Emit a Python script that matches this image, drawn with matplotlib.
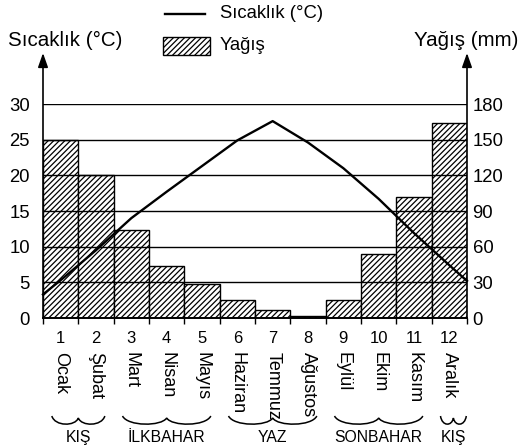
import numpy as np
import matplotlib
matplotlib.use('Agg')
import matplotlib.pyplot as plt
from matplotlib.path import Path
from matplotlib.patches import PathPatch, Rectangle, FancyArrowPatch
from matplotlib.lines import Line2D
import matplotlib.transforms as mtransforms

plt.rcParams['font.family'] = ['Liberation Sans', 'DejaVu Sans']
plt.rcParams['hatch.linewidth'] = 0.9
plt.rcParams['hatch.color'] = 'black'

# ---------------- data ----------------
month_numbers = [1, 2, 3, 4, 5, 6, 7, 8, 9, 10, 11, 12]
month_names = ['Ocak', 'Şubat', 'Mart', 'Nisan', 'Mayıs', 'Haziran',
               'Temmuz', 'Ağustos', 'Eylül', 'Ekim', 'Kasım', 'Aralık']
precip_mm = [150, 120, 74, 44, 29, 15, 7, 2, 15, 54, 102, 164]
temp_c = [5.3, 9.5, 14.0, 17.7, 21.3, 24.9, 27.6, 24.6, 21.0, 16.7, 11.9, 7.4]
temp_year_start = 3.3
temp_year_end = 5.2
temp_ticks = [0, 5, 10, 15, 20, 25, 30]
precip_ticks = [0, 30, 60, 90, 120, 150, 180]
seasons = ['KIŞ', 'İLKBAHAR', 'YAZ', 'SONBAHAR', 'KIŞ']
season_first = [1, 3, 6, 9, 12]
season_last = [2, 5, 8, 11, 12]

# ---------------- figure ----------------
W, H = 521, 448
fig = plt.figure(figsize=(W / 100, H / 100), dpi=100)


def fx(px):
    return px / W


def fy(py):
    return 1 - py / H


ax = fig.add_axes([fx(43), fy(318), fx(467) - fx(43), fy(104) - fy(318)])
ax2 = ax.twinx()

HATCH = '//////'

# bars (precipitation) on primary axes (right-hand scale)
ax.bar(month_numbers, precip_mm, width=1.0, facecolor='white',
       edgecolor='black', hatch=HATCH, linewidth=1.0, zorder=2)
ax.set_xlim(0.5, 12.5)
ax.set_ylim(precip_ticks[0], precip_ticks[-1])
ax2.set_ylim(temp_ticks[0], temp_ticks[-1])

# gridlines over bars
for t in temp_ticks[1:]:
    ax2.axhline(t, color='black', lw=1.0, zorder=3)

# temperature line
x0, x1 = ax.get_xlim()
line_x = [x0] + month_numbers + [x1]
line_y = [temp_year_start] + temp_c + [temp_year_end]
ax2.plot(line_x, line_y, color='black', lw=1.7, zorder=4,
         solid_joinstyle='round', clip_on=False)

# axes cosmetics
for a in (ax, ax2):
    for s in ('top', 'left', 'right'):
        a.spines[s].set_visible(False)
ax2.spines['bottom'].set_visible(False)
ax.spines['bottom'].set_linewidth(1.4)

ax.set_xticks(month_numbers)
ax.set_xticklabels([str(m) for m in month_numbers], fontsize=12)
ax.tick_params(axis='x', which='major', length=0, pad=9)
ax.set_xticks(np.arange(x0, x1 + 0.01, 1.0), minor=True)
ax.tick_params(axis='x', which='minor', length=4, width=1.0, direction='out')

ax.yaxis.tick_right()
ax.set_yticks(precip_ticks)
ax.set_yticklabels([str(v) for v in precip_ticks], fontsize=13.3)
ax.tick_params(axis='y', length=0, pad=4)

ax2.yaxis.tick_left()
ax2.set_yticks(temp_ticks)
ax2.set_yticklabels([str(v) for v in temp_ticks], fontsize=13.3)
ax2.tick_params(axis='y', length=0, pad=9.5)

# axis arrows
for xp in (43, 467):
    fig.add_artist(FancyArrowPatch(
        (fx(xp), fy(318)), (fx(xp), fy(53)), transform=fig.transFigure,
        arrowstyle='-|>,head_length=0.85,head_width=0.3', mutation_scale=10,
        lw=1.2, color='black', shrinkA=0, shrinkB=0))

# axis titles
fig.text(fx(8), fy(40), 'Sıcaklık (°C)', ha='left', va='center', fontsize=14.8)
fig.text(fx(518), fy(40), 'Yağış (mm)', ha='right', va='center', fontsize=14.8)

# legend
fig.add_artist(Line2D([fx(165), fx(205)], [fy(14), fy(14)],
                      transform=fig.transFigure, color='black', lw=1.7))
fig.text(fx(220), fy(14), 'Sıcaklık (°C)', ha='left', va='center', fontsize=13.3)
fig.add_artist(Rectangle((fx(163), fy(55)), fx(210) - fx(163), fy(37) - fy(55),
                         transform=fig.transFigure, facecolor='white',
                         edgecolor='black', hatch=HATCH, lw=1.0))
fig.text(fx(220), fy(46), 'Yağış', ha='left', va='center', fontsize=13.3)

# month names
btrans = mtransforms.blended_transform_factory(ax.transData, fig.transFigure)
for m, name in zip(month_numbers, month_names):
    ax.text(m, fy(352), name, rotation=270, ha='center', va='top',
            transform=btrans, fontsize=13)


# season braces
def brace(xa, xb):
    xm = (xa + xb) / 2
    hw = xm - xa
    top, bot, cusp = fy(416), fy(426.5), fy(418)
    verts = [(xa, top), (xa + 0.12 * hw, bot), (xm - 0.12 * hw, bot), (xm, cusp),
             (xm + 0.12 * hw, bot), (xb - 0.12 * hw, bot), (xb, top)]
    codes = [Path.MOVETO, Path.CURVE4, Path.CURVE4, Path.CURVE4,
             Path.CURVE4, Path.CURVE4, Path.CURVE4]
    ax.add_patch(PathPatch(Path(verts, codes), transform=btrans,
                           facecolor='none', edgecolor='black', lw=1.1,
                           clip_on=False))
    return xm


for i, (name, a, b) in enumerate(zip(seasons, season_first, season_last)):
    left = a - 0.5 + 0.25
    right = b + 0.5 - (0.02 if i == len(seasons) - 1 else 0.25)
    xm = brace(left, right)
    ax.text(xm, fy(437), name, ha='center', va='center', transform=btrans,
            fontsize=11.3)

fig.savefig('out.png', dpi=100)
